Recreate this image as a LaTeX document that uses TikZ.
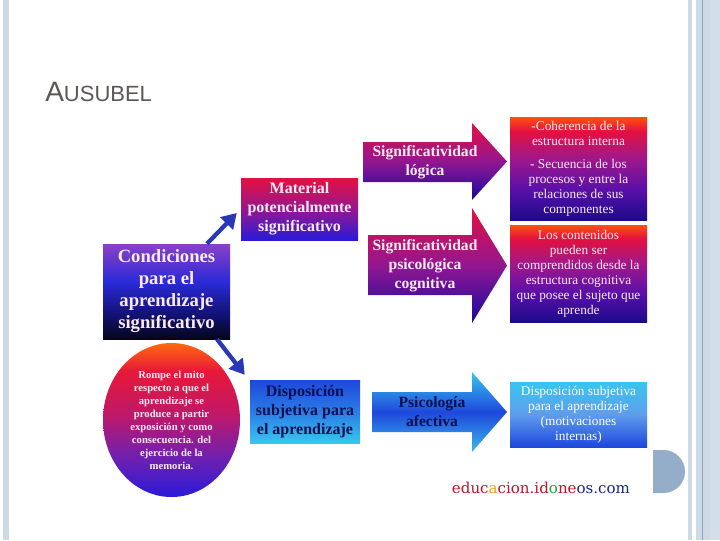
\documentclass[tikz,border=0pt]{standalone}
\usepackage{fontspec}
\setmainfont{Liberation Serif}
\newfontfamily\titlefont{Liberation Sans}
\newfontfamily\urlfont{DejaVu Serif}
\usetikzlibrary{arrows.meta,shapes.geometric,calc}

\definecolor{barc}{HTML}{CDD9E5}
\definecolor{barc2}{HTML}{D3DEE9}
\definecolor{barline}{HTML}{8EA6C2}
\definecolor{dcol}{HTML}{94ADC9}
\definecolor{titlec}{HTML}{5E5656}
\definecolor{conncol}{HTML}{2A38B8}
\definecolor{lighttext}{HTML}{FBEAF2}
\definecolor{navytext}{HTML}{0A1050}
% Condiciones
\definecolor{cdA}{HTML}{05051A}
\definecolor{cdB}{HTML}{121275}
\definecolor{cdC}{HTML}{2A2AD8}
\definecolor{cdD}{HTML}{8A40C8}
% red boxes
\definecolor{rbA}{HTML}{1C0A8C}
\definecolor{rbB}{HTML}{5A10A8}
\definecolor{rbC}{HTML}{A0188A}
\definecolor{rbD}{HTML}{E41040}
\definecolor{rbE}{HTML}{FF5010}
% circle
\definecolor{ciA}{HTML}{2A1AD8}
\definecolor{ciB}{HTML}{7020B0}
\definecolor{ciC}{HTML}{C01868}
\definecolor{ciD}{HTML}{E81838}
\definecolor{ciE}{HTML}{FF6A10}
% blue tones
\definecolor{bluA}{HTML}{1E48DC}
\definecolor{bluB}{HTML}{3AB8EC}
\definecolor{bluC}{HTML}{38C6EE}
\definecolor{bluD}{HTML}{2A7CE6}
% url
\definecolor{urlred}{HTML}{C0122E}
\definecolor{urlor}{HTML}{F0A020}
\definecolor{urlgr}{HTML}{22A030}
\definecolor{urlbl}{HTML}{1A2A80}

\pgfdeclareverticalshading{condshade}{100bp}{color(0bp)=(cdA); color(25bp)=(cdA); color(38bp)=(cdB); color(55bp)=(cdC); color(75bp)=(cdD); color(100bp)=(cdD)}
\pgfdeclareverticalshading{redbox}{100bp}{color(0bp)=(rbA); color(25bp)=(rbA); color(40bp)=(rbB); color(55bp)=(rbC); color(68bp)=(rbD); color(75bp)=(rbE); color(100bp)=(rbE)}
\pgfdeclareverticalshading{circshade}{100bp}{color(0bp)=(ciA); color(25bp)=(ciA); color(38bp)=(ciB); color(52bp)=(ciC); color(66bp)=(ciD); color(75bp)=(ciE); color(100bp)=(ciE)}

\begin{document}
\begin{tikzpicture}[x=0.75pt,y=-0.75pt,
  box/.style={rectangle, inner sep=0pt, draw=none, align=center},
  px/.style 2 args={minimum width={#1*0.75pt}, minimum height={#2*0.75pt}},
  conn/.style={draw=conncol, line width=3.2pt, -{Triangle[length=11pt,width=13pt]}},
  redarrow/.style={top color=rbD, bottom color=rbA!80!blue, middle color=rbC!80!rbB},
  bluearrow/.style={top color=bluC, bottom color=bluB, middle color=bluA},
  bigtext/.style={font=\bfseries\fontsize{11.7}{14.25}\selectfont, align=center},
  smalltext/.style={font=\fontsize{10}{11.25}\selectfont, text=lighttext, align=center}
]
\useasboundingbox (0,0) rectangle (720,540);
\fill[white] (0,0) rectangle (720,540);

% slide decoration
\fill[barc] (3,0) rectangle (9,540);
\fill[barc] (688,0) rectangle (692,540);
\fill[barc] (696,0) rectangle (720,540);
\fill[barc2] (710,0) rectangle (720,540);
\fill[barline] (702,0) rectangle (703,540);
\fill[dcol] (653,450) -- (663.5,450) arc[start angle=-90, end angle=90, radius=21.5] -- (653,493) -- cycle;

% title
\node[anchor=base west, inner sep=0pt, text=titlec] (title) at (45,101)
  {\titlefont{\fontsize{21}{21}\selectfont A}{\fontsize{16.5}{16.5}\selectfont USUBEL}};

% left boxes
\node[box, px={127}{95}, shading=condshade, text=lighttext,
  font=\bfseries\fontsize{14}{16.5}\selectfont] (cond) at (166.5,291.5)
  {Condiciones\\para el\\aprendizaje\\significativo};
\node[box, px={117}{62}, top color=rbD, bottom color=ciA, middle color=rbC!85!rbB,
  text=lighttext, font=\bfseries\fontsize{12}{14.25}\selectfont] (mat) at (299.5,209)
  {Material\\potencialmente\\significativo};
\node[box, px={110}{63}, top color=bluA, bottom color=bluC, middle color=bluD,
  text=navytext, font=\bfseries\fontsize{12}{14.25}\selectfont] (disp) at (305,411.5)
  {Disposición\\subjetiva para\\el aprendizaje};

% circle
\node[ellipse, inner sep=0pt, px={137}{154}, shading=circshade,
  text=lighttext, align=center, font=\bfseries\fontsize{8}{9.75}\selectfont] (mito) at (171.5,420)
  {Rompe el mito\\respecto a que el\\aprendizaje se\\produce a partir\\exposición y como\\consecuencia. del\\ejercicio de la\\memoria.};

% connectors
\draw[conn] ($(cond.north)+(40.5,0)$) -- ($(mat.west)+(-4,4)$);
\draw[conn] ($(cond.south)+(50.5,0)$) -- ($(disp.north west)+(-5,-5)$);

% big arrows
\shade[redarrow] (363,142) -- (472,142) -- (472,123) -- (507,161.5) -- (472,200) -- (472,182) -- (363,182) -- cycle;
\node[bigtext, text=lighttext] (siglog) at (425,162) {Significatividad\\lógica};
\shade[redarrow] (368,235) -- (472,235) -- (472,208) -- (507,265.5) -- (472,323) -- (472,295) -- (368,295) -- cycle;
\node[bigtext, text=lighttext] (sigpsi) at (425,266) {Significatividad\\psicológica\\cognitiva};
\shade[bluearrow] (372,392) -- (472,392) -- (472,372) -- (507,412) -- (472,452) -- (472,432) -- (372,432) -- cycle;
\node[bigtext, text=navytext] (psiafe) at (432,412) {Psicología\\afectiva};

% right boxes
\node[box, px={137}{103}, shading=redbox, smalltext] (coh) at (578.5,168.5)
  {-Coherencia de la\\estructura interna\\[6pt]- Secuencia de los\\procesos y entre la\\relaciones de sus\\componentes};
\node[box, px={137}{97}, shading=redbox, smalltext] (cont) at (578.5,273.5)
  {Los contenidos\\pueden ser\\comprendidos desde la\\estructura cognitiva\\que posee el sujeto que\\aprende};
\node[box, px={137}{65}, top color=bluC, bottom color=bluA, middle color=bluD!75!white,
  smalltext, text=white] (motiv) at (578.5,414.5)
  {Disposición subjetiva\\para el aprendizaje\\(motivaciones\\internas)};

% url
\node[anchor=base, inner sep=0pt, font=\urlfont\fontsize{11.3}{13}\selectfont] (url) at (541,493)
  {\textcolor{urlred}{educ}\textcolor{urlor}{a}\textcolor{urlred}{cion.id}\textcolor{urlgr}{o}\textcolor{urlred}{ne}\textcolor{urlbl}{os.com}};
\end{tikzpicture}
\end{document}
